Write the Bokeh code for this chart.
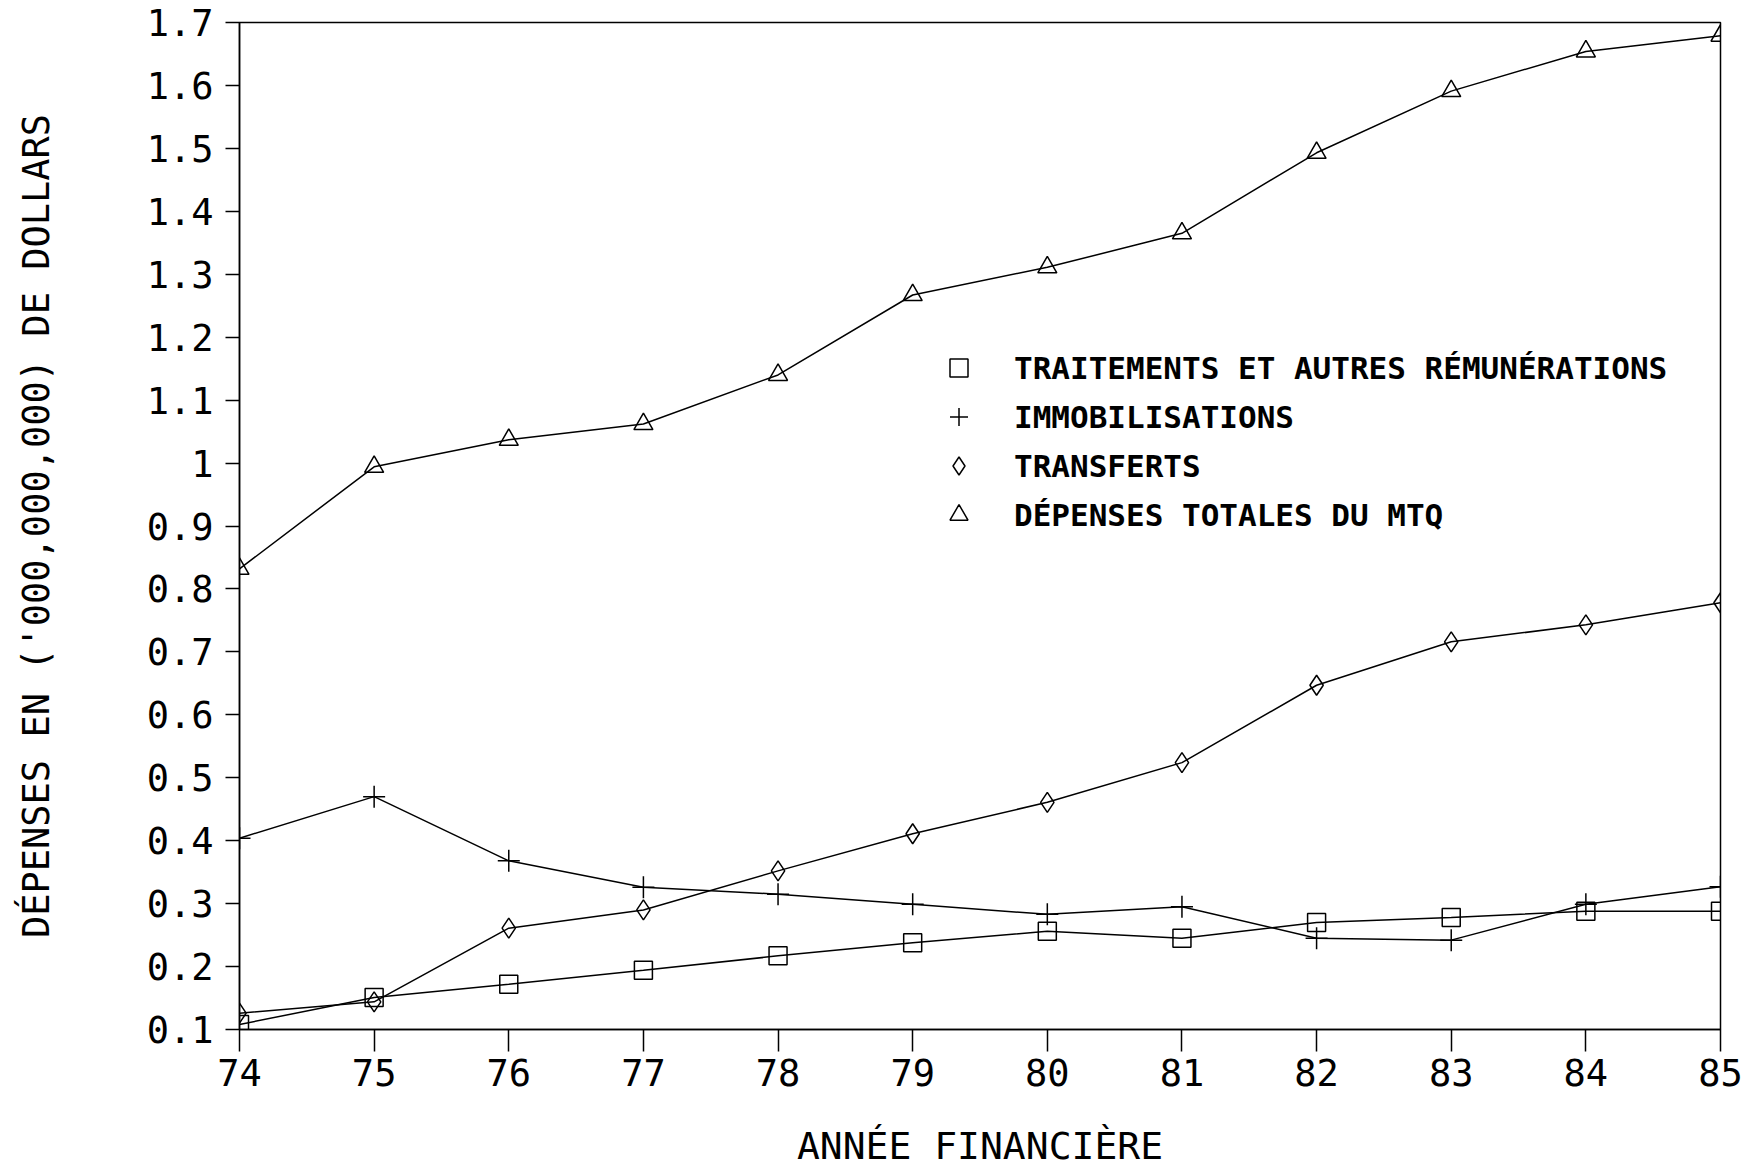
from bokeh.plotting import figure
from bokeh.models import FixedTicker, Legend, LegendItem, Range1d
from bokeh.embed import file_html
from bokeh.resources import INLINE

years = [74, 75, 76, 77, 78, 79, 80, 81, 82, 83, 84, 85]
traitements = [0.108, 0.151, 0.172, 0.194, 0.217, 0.238, 0.256, 0.245, 0.270, 0.278, 0.288, 0.288]
immobilisations = [0.404, 0.470, 0.368, 0.326, 0.315, 0.299, 0.283, 0.295, 0.245, 0.242, 0.299, 0.327]
transferts = [0.126, 0.144, 0.261, 0.290, 0.352, 0.411, 0.461, 0.524, 0.647, 0.716, 0.743, 0.778]
depenses_totales = [0.832, 0.994, 1.037, 1.062, 1.140, 1.267, 1.311, 1.365, 1.493, 1.591, 1.654, 1.679]

series_names = ["TRAITEMENTS ET AUTRES RÉMUNÉRATIONS", "IMMOBILISATIONS",
                "TRANSFERTS", "DÉPENSES TOTALES DU MTQ"]
y_ticks = [0.1, 0.2, 0.3, 0.4, 0.5, 0.6, 0.7, 0.8, 0.9, 1.0, 1.1, 1.2, 1.3, 1.4, 1.5, 1.6, 1.7]
y_tick_labels = ["0.1", "0.2", "0.3", "0.4", "0.5", "0.6", "0.7", "0.8", "0.9", "1",
                 "1.1", "1.2", "1.3", "1.4", "1.5", "1.6", "1.7"]
x_tick_labels = ["74", "75", "76", "77", "78", "79", "80", "81", "82", "83", "84", "85"]

FONT = "DejaVu Sans Mono"

p = figure(frame_width=1481, frame_height=1007,
           x_range=Range1d(74, 85), y_range=Range1d(0.1, 1.7),
           output_backend="svg", toolbar_location=None,
           min_border_left=239, min_border_top=22, min_border_right=25, min_border_bottom=128)

p.xgrid.visible = False
p.ygrid.visible = False
p.outline_line_color = "black"
p.outline_line_width = 1.5
p.outline_line_alpha = 1.0

# axes
p.xaxis.ticker = FixedTicker(ticks=years)
p.xaxis.major_label_overrides = {y: l for y, l in zip(years, x_tick_labels)}
p.yaxis.ticker = FixedTicker(ticks=y_ticks)
p.yaxis.major_label_overrides = {t: l for t, l in zip(y_ticks, y_tick_labels)}
for ax in (p.xaxis[0], p.yaxis[0]):
    ax.axis_line_color = "black"
    ax.axis_line_width = 1.5
    ax.major_tick_line_color = "black"
    ax.major_tick_line_width = 1.5
    ax.major_tick_in = 0
    ax.minor_tick_line_color = None
    ax.major_label_text_font = FONT
    ax.major_label_text_font_size = "37px"
    ax.major_label_text_color = "black"
    ax.axis_label_text_font = FONT
    ax.axis_label_text_font_style = "normal"
    ax.axis_label_text_color = "black"

p.xaxis.major_tick_out = 22
p.xaxis.major_label_standoff = 7
p.xaxis.axis_label = "ANNÉE FINANCIÈRE"
p.xaxis.axis_label_text_font_size = "38px"
p.xaxis.axis_label_standoff = 35

p.yaxis.major_tick_out = 14
p.yaxis.major_label_standoff = 12
p.yaxis.axis_label = "DÉPENSES EN ('000,000,000) DE DOLLARS"
p.yaxis.axis_label_text_font_size = "37px"
p.yaxis.axis_label_standoff = 86

series = [traitements, immobilisations, transferts, depenses_totales]
markers = ["square", "cross", "diamond", "triangle"]
sizes = [18, 22, 20, 19]

items = []
for name, vals, mk, sz in zip(series_names, series, markers, sizes):
    p.line(years, vals, line_color="black", line_width=1.5)
    r = p.scatter(years, vals, marker=mk, size=sz, fill_color=None,
                  line_color="black", line_width=1.5)
    items.append(LegendItem(label=name, renderers=[r]))

legend = Legend(items=items, location=(697, 492),
                border_line_color=None, background_fill_alpha=0,
                margin=0, padding=0, spacing=4,
                glyph_width=45, glyph_height=45, label_height=45,
                label_standoff=33,
                label_text_font=FONT, label_text_font_style="bold",
                label_text_font_size="31px", label_text_color="black")
p.add_layout(legend)

open("out.html", "w").write(file_html(p, INLINE))
